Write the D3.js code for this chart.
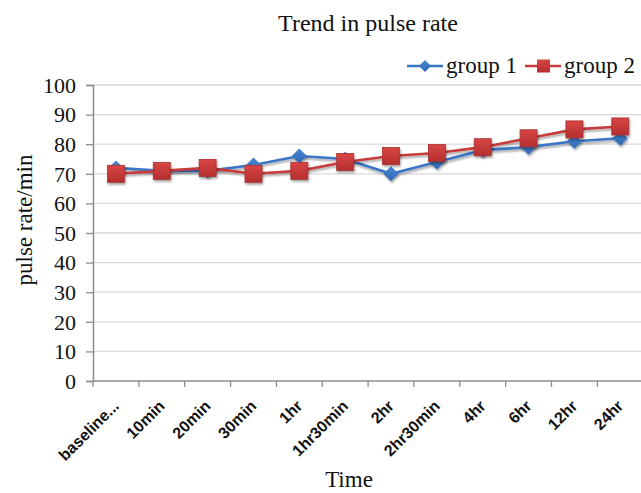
<!DOCTYPE html>
<html><head><meta charset="utf-8">
<script src="https://cdn.jsdelivr.net/npm/d3@7"></script>
<style>html,body{margin:0;padding:0;background:#fff;}svg{display:block;}</style>
</head><body>
<script>
const categories = ["baseline...","10min","20min","30min","1hr","1hr30min","2hr","2hr30min","4hr","6hr","12hr","24hr"];
const group1 = [72,71,71,73,76,75,70,74,78,79,81,82];
const group2 = [70,71,72,70,71,74,76,77,79,82,85,86];
const yTicks = [0,10,20,30,40,50,60,70,80,90,100];
const seriesNames = ["group 1","group 2"];

(function(){
const W = 641, H = 493;
const svg = d3.select("body").append("svg").attr("width", W).attr("height", H);
const defs = svg.append("defs");
const f = defs.append("filter").attr("id","sh").attr("x","-50%").attr("y","-50%").attr("width","200%").attr("height","200%");
f.append("feDropShadow").attr("dx",1).attr("dy",2).attr("stdDeviation",1.2).attr("flood-color","#000").attr("flood-opacity",0.35);
const gR = defs.append("linearGradient").attr("id","gr").attr("x1",0).attr("y1",0).attr("x2",0).attr("y2",1);
gR.append("stop").attr("offset","0%").attr("stop-color","#d94545");
gR.append("stop").attr("offset","100%").attr("stop-color","#b52f2f");
const gB = defs.append("linearGradient").attr("id","gb").attr("x1",0).attr("y1",0).attr("x2",0).attr("y2",1);
gB.append("stop").attr("offset","0%").attr("stop-color","#4a86d4");
gB.append("stop").attr("offset","100%").attr("stop-color","#2f68b4");

const pL = 93, pR = 643.2, pT = 85, pB = 381;
const x = d3.scaleBand().domain(categories).range([pL, pR]).paddingInner(0).paddingOuter(0);
const y = d3.scaleLinear().domain([0,100]).range([pB, pT]);
const cx = d => x(d) + x.bandwidth()/2;
const serif = "Liberation Serif";

// gridlines
svg.append("g").selectAll("line").data(yTicks.filter(t=>t>0)).join("line")
  .attr("x1", pL).attr("x2", W).attr("y1", d=>y(d)).attr("y2", d=>y(d))
  .attr("stroke", "#d9d9d9").attr("stroke-width", 1.3);

// y axis
const yAxis = svg.append("g").attr("transform", `translate(${pL},0)`)
  .call(d3.axisLeft(y).tickValues(yTicks).tickSize(7).tickPadding(10));
yAxis.select(".domain").attr("stroke","#8c8c8c").attr("stroke-width",1.5);
yAxis.selectAll(".tick line").attr("stroke","#8c8c8c").attr("stroke-width",1.3);
yAxis.selectAll(".tick text").attr("font-family",serif).attr("font-size",22).attr("fill","#111").attr("dy","0.33em");

// x axis
const xAxis = svg.append("g").attr("transform", `translate(0,${pB})`);
xAxis.append("line").attr("x1", pL).attr("x2", W).attr("stroke","#8c8c8c").attr("stroke-width",1.5);
xAxis.selectAll("line.tk").data(categories).join("line").attr("class","tk")
  .attr("x1", d=>x(d)).attr("x2", d=>x(d)).attr("y1",0).attr("y2",6)
  .attr("stroke","#8c8c8c").attr("stroke-width",1.3);
xAxis.selectAll("text").data(categories).join("text")
  .attr("transform", d=>`translate(${cx(d)+4},26) rotate(-45)`)
  .attr("text-anchor","end").attr("font-family","Liberation Sans").attr("font-weight","bold")
  .attr("font-size",16).attr("fill","#111").text(d=>d);

// lines
const line = d3.line().x((d,i)=>cx(categories[i])).y(d=>y(d));
svg.append("path").datum(group1).attr("d", line).attr("fill","none").attr("stroke","#3a76c6").attr("stroke-width",2.6).attr("filter","url(#sh)");
svg.append("path").datum(group2).attr("d", line).attr("fill","none").attr("stroke","#c63a3a").attr("stroke-width",2.6).attr("filter","url(#sh)");

const diamond = s => `M0,${-s}L${s},0L0,${s}L${-s},0Z`;
svg.append("g").selectAll("path").data(group1).join("path")
  .attr("transform",(d,i)=>`translate(${cx(categories[i])},${y(d)})`)
  .attr("d", diamond(7.5)).attr("fill","url(#gb)").attr("filter","url(#sh)");
svg.append("g").selectAll("rect").data(group2).join("rect")
  .attr("x",(d,i)=>cx(categories[i])-8.5).attr("y", d=>y(d)-8.5).attr("width",17).attr("height",17)
  .attr("fill","url(#gr)").attr("stroke","#a83030").attr("stroke-width",0.8).attr("filter","url(#sh)");

// title
svg.append("text").attr("x",368).attr("y",31).attr("text-anchor","middle")
  .attr("font-family",serif).attr("font-size",24).attr("fill","#111").text("Trend in pulse rate");

// axis titles
svg.append("text").attr("x",349).attr("y",487).attr("text-anchor","middle")
  .attr("font-family",serif).attr("font-size",23).attr("fill","#111").text("Time");
svg.append("text").attr("transform","translate(32,220) rotate(-90)").attr("text-anchor","middle")
  .attr("font-family",serif).attr("font-size",23).attr("fill","#111").text("pulse rate/min");

// legend
const lg = svg.append("g");
const items = [{x:407, name:seriesNames[0], c:"#3a76c6", m:"d"},{x:525, name:seriesNames[1], c:"#c63a3a", m:"s"}];
items.forEach(it=>{
  lg.append("line").attr("x1",it.x).attr("x2",it.x+36).attr("y1",66).attr("y2",66).attr("stroke",it.c).attr("stroke-width",2.6);
  if (it.m==="d") lg.append("path").attr("transform",`translate(${it.x+18},66)`).attr("d",diamond(6)).attr("fill","url(#gb)");
  else lg.append("rect").attr("x",it.x+12).attr("y",59.5).attr("width",13).attr("height",13).attr("fill","url(#gr)");
  lg.append("text").attr("x",it.x+39).attr("y",73).attr("font-family",serif).attr("font-size",23).attr("fill","#111").text(it.name);
});
})();
</script>
</body></html>
